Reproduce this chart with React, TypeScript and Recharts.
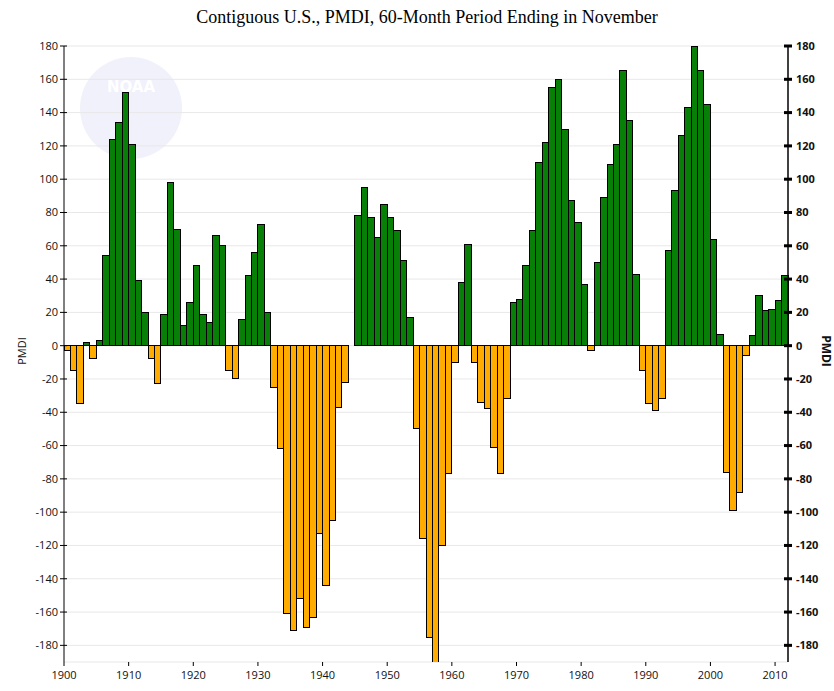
import React from 'react';
import { BarChart, Bar, XAxis, YAxis, CartesianGrid } from 'recharts';

const years = [
  1900, 1901, 1902, 1903, 1904, 1905, 1906, 1907, 1908, 1909,
  1910, 1911, 1912, 1913, 1914, 1915, 1916, 1917, 1918, 1919,
  1920, 1921, 1922, 1923, 1924, 1925, 1926, 1927, 1928, 1929,
  1930, 1931, 1932, 1933, 1934, 1935, 1936, 1937, 1938, 1939,
  1940, 1941, 1942, 1943, 1944, 1945, 1946, 1947, 1948, 1949,
  1950, 1951, 1952, 1953, 1954, 1955, 1956, 1957, 1958, 1959,
  1960, 1961, 1962, 1963, 1964, 1965, 1966, 1967, 1968, 1969,
  1970, 1971, 1972, 1973, 1974, 1975, 1976, 1977, 1978, 1979,
  1980, 1981, 1982, 1983, 1984, 1985, 1986, 1987, 1988, 1989,
  1990, 1991, 1992, 1993, 1994, 1995, 1996, 1997, 1998, 1999,
  2000, 2001, 2002, 2003, 2004, 2005, 2006, 2007, 2008, 2009,
  2010, 2011,
];

const pmdi = [
  -3, -15, -35, 2, -8, 3, 54, 124, 134, 152,
  121, 39, 20, -8, -23, 19, 98, 70, 12, 26,
  48, 19, 14, 66, 60, -15, -20, 16, 42, 56,
  73, 20, -25, -62, -161, -171, -152, -169, -163, -113,
  -144, -105, -37, -22, 0, 78, 95, 77, 65, 85,
  77, 69, 51, 17, -50, -116, -175, -190, -120, -77,
  -10, 38, 61, -10, -34, -38, -61, -77, -32, 26,
  28, 48, 69, 110, 122, 155, 160, 130, 87, 74,
  37, -3, 50, 89, 109, 121, 165, 135, 43, -15,
  -35, -39, -32, 57, 93, 126, 143, 180, 165, 145,
  64, 7, -76, -99, -88, -6, 6, 30, 21, 22,
  27, 42,
];

const xTicks = [1900, 1910, 1920, 1930, 1940, 1950, 1960, 1970, 1980, 1990, 2000, 2010];
const yTicks = [-180, -160, -140, -120, -100, -80, -60, -40, -20, 0, 20, 40, 60, 80, 100, 120, 140, 160, 180];

const title = 'Contiguous U.S., PMDI, 60-Month Period Ending in November';
const axisLabel = 'PMDI';

const GREEN = '#088008';
const ORANGE = '#FFAB00';

const CHART_W = 834;
const CHART_H = 691;
const LEFT_AXIS_W = 64;
const RIGHT_AXIS_W = 46;

const data = years.map((yr, i) => ({ year: yr, value: pmdi[i] }));

const PITCH = (CHART_W - LEFT_AXIS_W - RIGHT_AXIS_W) / data.length;

const BarShape = (props: any) => {
  const { x, y, height, payload } = props;
  if (!height) return null;
  const top = Math.min(y, y + height);
  const h = Math.abs(height);
  return (
    <rect
      x={x}
      y={top}
      width={PITCH}
      height={h}
      fill={payload.value >= 0 ? GREEN : ORANGE}
      stroke="#000"
      strokeWidth={1}
      shapeRendering="crispEdges"
    />
  );
};

const LeftTick = (props: any) => {
  const { x, y, payload } = props;
  const ax = x + 6;
  return (
    <g>
      <line x1={ax - 4} x2={ax + 3} y1={y} y2={y} stroke="#000" strokeWidth={1} />
      <text x={x} y={y} dy="0.35em" textAnchor="end" fontSize={11} fontFamily="Open Sans" fill="#111">
        {payload.value}
      </text>
    </g>
  );
};

const RightTick = (props: any) => {
  const { x, y, payload } = props;
  const ax = x - 8;
  return (
    <g>
      <rect x={ax - 4} y={y - 1.5} width={8} height={3} fill="#000" />
      <text x={x} y={y} dy="0.35em" textAnchor="start" fontSize={11} fontWeight="bold" fontFamily="Open Sans" fill="#111">
        {payload.value}
      </text>
    </g>
  );
};

export default function App() {
  return (
    <div style={{ position: 'absolute', left: 0, top: 0, width: CHART_W, height: CHART_H, background: '#fff' }}>
      <svg width={CHART_W} height={CHART_H} style={{ position: 'absolute', left: 0, top: 0 }}>
        <circle cx={131} cy={108} r={51} fill="#f0f1fa" />
        <text x={131} y={92} textAnchor="middle" fontSize={15} fontWeight="bold" fontFamily="DejaVu Sans" fill="#ffffff">
          NOAA
        </text>
      </svg>
      <div style={{ position: 'absolute', left: 0, top: 0 }}>
        <BarChart
          width={CHART_W}
          height={CHART_H}
          data={data}
          margin={{ top: 46, right: 0, bottom: 0, left: 0 }}
          barCategoryGap={0}
          barGap={0}
          style={{ background: 'transparent' }}
        >
          <CartesianGrid xAxisId="cat" yAxisId="left" vertical={false} stroke="#e8e8e8" />
          <XAxis xAxisId="cat" dataKey="year" type="category" hide height={0} />
          <XAxis
            xAxisId="num"
            dataKey="year"
            type="number"
            domain={[1900, 2012]}
            ticks={xTicks}
            allowDataOverflow
            height={29}
            axisLine={false}
            tickLine={{ stroke: '#000' }}
            tickSize={4}
            tickMargin={5}
            tick={{ fontSize: 11, fill: '#111', fontFamily: 'Open Sans' }}
            interval={0}
          />
          <YAxis
            yAxisId="left"
            orientation="left"
            width={LEFT_AXIS_W}
            domain={[-190, 180]}
            ticks={yTicks}
            allowDataOverflow
            interval={0}
            axisLine={{ stroke: '#000' }}
            tickLine={false}
            tickSize={4}
            tickMargin={2}
            tick={<LeftTick />}
          />
          <YAxis
            yAxisId="right"
            orientation="right"
            width={RIGHT_AXIS_W}
            domain={[-190, 180]}
            ticks={yTicks}
            allowDataOverflow
            interval={0}
            axisLine={{ stroke: '#000', strokeWidth: 1.5 }}
            tickLine={false}
            tickSize={4}
            tickMargin={4}
            tick={<RightTick />}
          />
          <Bar
            dataKey="value"
            xAxisId="cat"
            yAxisId="left"
            shape={<BarShape />}
            isAnimationActive={false}
          />
        </BarChart>
      </div>
      <svg width={CHART_W} height={CHART_H} style={{ position: 'absolute', left: 0, top: 0, pointerEvents: 'none' }}>
        <text x={427} y={23} textAnchor="middle" fontSize={18} fontFamily="Liberation Serif" fill="#000">
          {title}
        </text>
        <text x={26} y={351} transform="rotate(-90 26 351)" textAnchor="middle" fontSize={11} fontFamily="Open Sans" fill="#111">
          {axisLabel}
        </text>
        <text x={822} y={351} transform="rotate(90 822 351)" textAnchor="middle" fontSize={12} fontWeight="bold" fontFamily="Open Sans" fill="#111">
          {axisLabel}
        </text>
      </svg>
    </div>
  );
}
